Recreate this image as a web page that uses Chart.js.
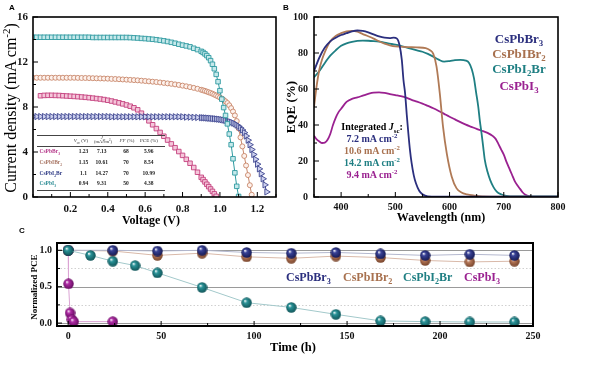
<!DOCTYPE html>
<html>
<head>
<meta charset="utf-8">
<script src="https://cdn.jsdelivr.net/npm/chart.js@4.4.0/dist/chart.umd.min.js"></script>
<style>
html, body { margin: 0; padding: 0; background: #fff; }
#wrap { position: relative; width: 600px; height: 373px; overflow: hidden; font-family: "Liberation Serif", "Times New Roman", serif; color: #000; }
canvas { position: absolute; }
.t { position: absolute; white-space: nowrap; transform: translate(-50%, -50%); line-height: 1; }
.rot { transform: translate(-50%, -50%) rotate(-90deg); }
.l { position: absolute; white-space: nowrap; transform: translate(0, -50%); line-height: 1; }
.hr { position: absolute; left: 37px; width: 128px; height: 0; border-top: 0.8px solid #444; }
sub, sup { font-size: 68%; line-height: 0; }
</style>
</head>
<body>
<div id="wrap">
  <canvas id="cA" width="285" height="230" style="left:0;top:0"></canvas>
  <canvas id="cB" width="313" height="230" style="left:287px;top:0"></canvas>
  <canvas id="cC" width="600" height="141" style="left:0;top:232px"></canvas>
</div>
<script>
// ---- panel A : J-V curves ----
const voltage = [0.00,0.02,0.04,0.06,0.08,0.10,0.12,0.14,0.16,0.18,0.20,0.22,0.24,0.26,0.28,0.30,0.32,0.34,0.36,0.38,0.40,0.42,0.44,0.46,0.48,0.50,0.52,0.54,0.56,0.58,0.60,0.62,0.64,0.66,0.68,0.70,0.72,0.74,0.76,0.78,0.80,0.82,0.84,0.86,0.88,0.90,
  0.91,0.92,0.93,0.94,0.95,0.96,0.97,0.98,0.99,1.00,1.01,1.02,1.03,1.04,1.05,1.06,1.07,1.08,1.09,1.10,1.11,1.12,1.13,1.14,1.15,1.16,1.17,1.18,1.19,1.20,1.21,1.22,1.23,1.24,1.25];
const jI2Br = [14.2,14.2,14.2,14.2,14.2,14.2,14.2,14.2,14.2,14.2,14.2,14.2,14.2,14.2,14.2,14.2,
  14.18,14.18,14.18,14.18,14.18,14.18,14.18,14.18,14.18,14.18,
  14.17,14.15,14.13,14.1,14.08,14.05,14.02,13.98,13.93,13.88,13.82,13.75,13.67,13.58,13.5,13.43,13.35,13.22,13.1,12.95,
  12.85,12.72,12.57,12.38,12.12,11.8,11.4,10.9,10.25,9.45,8.7,7.95,7.25,6.5,5.6,4.65,3.4,2.15,0.95,0.05];
const jIBr2 = [10.6,10.6,10.6,10.6,10.6,10.6,10.6,10.6,10.6,10.6,10.6,10.6,
  10.59,10.58,10.58,10.57,10.56,10.55,10.54,10.53,10.52,10.5,10.49,10.47,10.45,10.43,10.41,10.39,10.37,10.34,10.31,10.28,
  10.25,10.22,10.18,10.14,10.1,10.06,10.01,9.96,9.9,9.84,9.77,9.7,9.62,9.53,
  9.48,9.43,9.37,9.31,9.25,9.18,9.1,9.02,8.94,8.85,8.75,8.63,8.5,8.35,8.15,7.9,7.6,7.25,6.75,6.1,
  5.3,4.5,3.65,2.8,1.95,1.05,0.2];
const jBr3 = [7.15,7.15,7.15,7.15,7.15,7.15,7.15,7.15,7.15,7.15,7.15,7.15,7.15,7.15,7.15,7.15,7.15,7.15,7.15,7.15,7.15,
  7.13,7.13,7.13,7.13,7.13,7.13,7.13,7.13,7.13,7.13,7.13,7.13,7.13,7.13,7.13,7.13,7.13,7.13,7.13,7.13,
  7.1,7.1,7.08,7.07,7.05,
  7.04,7.03,7.02,7.0,6.99,6.97,6.96,6.94,6.92,6.9,6.87,6.84,6.8,6.76,6.71,6.65,6.58,6.5,6.4,6.28,
  6.13,5.95,5.72,5.42,5.05,4.65,4.22,3.78,3.35,2.92,2.5,2.07,1.62,1.08,0.45];
const jI3 = [null,null,9.0,9.03,9.04,9.04,9.03,9.02,9.0,8.98,8.96,8.94,8.92,8.89,8.86,8.83,8.79,8.75,8.71,8.66,8.6,8.53,
  8.45,8.37,8.28,8.18,8.07,7.93,7.75,7.45,7.12,6.77,6.42,6.08,5.74,5.4,5.06,4.72,4.38,4.04,3.7,3.35,3.0,2.62,2.2,1.75,
  1.55,1.34,1.13,0.92,0.71,0.5,0.28,0.06];

// inset table
const tableNames = ['CsPbBr<sub>3</sub>', 'CsPbIBr<sub>2</sub>', 'CsPbI<sub>2</sub>Br', 'CsPbI<sub>3</sub>'];
const tableVoc = ['1.23', '1.15', '1.1', '0.94'];
const tableJsc = ['7.13', '10.61', '14.27', '9.31'];
const tableFF = ['68', '70', '70', '50'];
const tablePCE = ['5.96', '8.54', '10.99', '4.38'];

// ---- panel B : EQE ----
const wlBr3 = [350,360,370,380,390,400,410,420,430,440,450,460,470,480,490,497,503,508,512,515,518,521,524,527,530,534,538,544,550,560,600,700,800];
const eqeBr3 = [70,77.5,83,86.5,88.5,90,91,92,92.5,92.3,91.5,90.3,89.2,88.5,88.3,88.5,88,84,76,65,57.6,46,35.4,26,18.9,12,7.6,3.5,1.5,0.4,0.2,0.2,0.2];
const wlIBr2 = [350,355,360,365,370,380,390,400,410,420,430,440,450,460,470,480,490,500,520,540,556,564,570,576,582,588,595,604,613,622,632,645,660,700,800];
const eqeIBr2 = [50,62,71,76.5,80.5,86.5,89.5,91,92,92.3,91.8,90.5,89.3,88,86.5,85.2,84.3,83.7,83.3,83.1,82.7,81.5,79.5,72.4,57.6,39,24,11.3,4.8,2.5,1.5,0.8,0.3,0.2,0.2];
const wlI2Br = [350,360,370,380,390,400,410,420,430,440,450,460,470,480,490,500,510,520,530,540,550,560,570,580,590,600,610,620,630,636,641,645,649,653,656,659,662,665,670,675,681,687,695,705,720,800];
const eqeI2Br = [66.5,70,74.5,78.5,81.5,84,85.4,86.2,86.7,86.9,86.8,86.6,86.3,85.8,85.2,84.6,83.9,83.1,82.3,81.5,80.7,79.5,78,76.3,75.2,75.5,76,76.2,75.8,74.5,71,66,58,50,42,35.4,28,20.6,14,9.4,5.5,3,1.5,0.6,0.3,0.3];
const wlI3 = [350,355,360,365,370,375,380,385,390,395,400,410,420,430,440,450,460,470,480,490,500,510,520,530,540,550,560,570,580,590,600,610,620,630,640,650,660,670,680,685,690,695,700,705,710,715,720,725,730,735,740,750,760,800];
const eqeI3 = [34,32,30.8,30,30.2,31.8,35,40,44,47,49,52.8,54.5,55.3,56.3,57.3,58,58.1,57.8,57.2,56.6,56,55.2,54,53,51.9,50.6,49.3,47.8,46.2,44.6,43.1,41.6,40.2,39,37.8,36.8,35.6,33.8,32.3,29.5,26.5,23.5,19.5,16,12.5,9,6.5,4.5,2.5,1.2,0.2,0,0];
const integratedJsc = ['7.2', '10.6', '14.2', '9.4'];

// ---- panel C : stability ----
const tI2Br = [0,12,24,36,48,72,96,120,144,168,192,216,240];
const pceI2Br = [1.0,0.93,0.85,0.79,0.69,0.49,0.28,0.215,0.12,0.03,0.02,0.015,0.015];
const tBr = [0,24,48,72,96,120,144,168,192,216,240];
const pceBr3 = [1.0,1.0,0.99,1.0,0.97,0.96,0.97,0.95,0.93,0.945,0.93];
const pceIBr2 = [1.0,0.99,0.93,0.96,0.91,0.89,0.92,0.9,0.86,0.84,0.85];
const tI3 = [0,0.2,1,2,3,24];
const pceI3 = [1.0,0.54,0.14,0.05,0.02,0.02];

const names = ['CsPbBr<sub>3</sub>', 'CsPbIBr<sub>2</sub>', 'CsPbI<sub>2</sub>Br', 'CsPbI<sub>3</sub>'];
const navy = '#2b2f7e', brown = '#b07a56', teal = '#1f7f83', purple = '#9a2190';

const pts = (xs, ys) => ys.map((y, i) => ({ x: xs[i], y }));
const isMult = (v, m) => Math.abs(v / m - Math.round(v / m)) < 1e-6;
const tickFont = size => ({ family: 'Liberation Serif', size, weight: 'bold' });

// box frame, inward ticks and reference lines
const framePlugin = {
  id: 'frame',
  beforeDatasetsDraw(chart, args, opts) {
    const { ctx, chartArea: a, scales } = chart;
    (opts.lines || []).forEach(l => {
      const py = Math.round(scales.y.getPixelForValue(l.value)) + 0.5;
      ctx.save();
      ctx.strokeStyle = l.color;
      ctx.lineWidth = 1;
      ctx.setLineDash(l.dash || []);
      ctx.beginPath(); ctx.moveTo(a.left, py); ctx.lineTo(a.right, py); ctx.stroke();
      ctx.restore();
    });
  },
  afterDraw(chart, args, opts) {
    const { ctx, chartArea: a, scales } = chart;
    ctx.save();
    ctx.strokeStyle = '#000';
    ctx.lineWidth = 1;
    scales.x.ticks.forEach(t => {
      const px = scales.x.getPixelForValue(t.value);
      const len = t.label ? 5 : 3;
      ctx.beginPath(); ctx.moveTo(px, a.bottom); ctx.lineTo(px, a.bottom - len); ctx.stroke();
    });
    scales.y.ticks.forEach(t => {
      const py = scales.y.getPixelForValue(t.value);
      const len = t.label ? 5 : 3;
      ctx.beginPath(); ctx.moveTo(a.left, py); ctx.lineTo(a.left + len, py); ctx.stroke();
    });
    ctx.lineWidth = opts.width || 1.6;
    ctx.strokeRect(a.left, a.top, a.right - a.left, a.bottom - a.top);
    ctx.restore();
  }
};

function linearAxis(min, max, step, fmt, pad, size, fit) {
  return {
    type: 'linear', min, max,
    border: { display: false },
    grid: { display: false, drawTicks: false },
    ticks: { stepSize: step, includeBounds: false, autoSkip: false, maxRotation: 0,
             padding: pad, font: tickFont(size), color: '#111', callback: fmt },
    afterFit: fit
  };
}

const base = (padding) => ({
  responsive: false, animation: false,
  layout: { padding },
  plugins: { legend: { display: false }, tooltip: { enabled: false } }
});

// ---- chart A ----
const jvSeries = [
  { data: jI2Br, color: '#2f9aa0', fill: '#c6e9eb', style: 'rect', r: 3.2, rot: 0 },
  { data: jBr3, color: '#3d4590', fill: '#cdd1ee', style: 'triangle', r: 3.6, rot: 90 },
  { data: jIBr2, color: '#c8876a', fill: '#fdf1ec', style: 'circle', r: 2.5, rot: 0 },
  { data: jI3, color: '#c4417e', fill: '#f5c6da', style: 'rect', r: 3.2, rot: 0 }
];
new Chart(document.getElementById('cA'), {
  type: 'line',
  data: {
    datasets: jvSeries.map(s => ({
      data: pts(voltage, s.data),
      borderColor: s.color, borderWidth: 1,
      pointStyle: s.style, pointRadius: s.r, pointRotation: s.rot,
      pointBackgroundColor: s.fill, pointBorderColor: s.color, pointBorderWidth: 0.9,
      tension: 0, spanGaps: false
    }))
  },
  options: Object.assign(base({ top: 17, right: 9, left: 0, bottom: 0 }), {
    scales: {
      x: linearAxis(0, 1.3, 0.1, v => (isMult(v, 0.2) && v > 0.01) ? v.toFixed(1) : '', 6, 11, s => { s.height = 33; }),
      y: linearAxis(0, 16, 2, v => isMult(v, 4) ? String(v) : '', 5, 11, s => { s.width = 33; })
    },
    plugins: { legend: { display: false }, tooltip: { enabled: false }, frame: { width: 1.6 } }
  }),
  plugins: [framePlugin]
});

// ---- chart B ----
const eqeSeries = [
  { x: wlBr3, y: eqeBr3, color: navy },
  { x: wlIBr2, y: eqeIBr2, color: brown },
  { x: wlI2Br, y: eqeI2Br, color: teal },
  { x: wlI3, y: eqeI3, color: purple }
];
new Chart(document.getElementById('cB'), {
  type: 'line',
  data: {
    datasets: eqeSeries.map(s => ({
      data: pts(s.x, s.y), borderColor: s.color, borderWidth: 1.8,
      pointRadius: 0, cubicInterpolationMode: 'monotone'
    }))
  },
  options: Object.assign(base({ top: 17, right: 42, left: 0, bottom: 0 }), {
    scales: {
      x: linearAxis(350, 800, 50, v => isMult(v, 100) ? String(v) : '', 4, 10, s => { s.height = 33; }),
      y: linearAxis(0, 100, 10, v => isMult(v, 20) ? String(v) : '', 6, 10, s => { s.width = 27; })
    },
    plugins: { legend: { display: false }, tooltip: { enabled: false }, frame: { width: 1.6 } }
  }),
  plugins: [framePlugin]
});

// ---- chart C ----
function sphere(col, dark) {
  const c = document.createElement('canvas');
  c.width = c.height = 11;
  const g = c.getContext('2d');
  const grd = g.createRadialGradient(3.8, 3.6, 0.2, 5.5, 5.5, 6);
  grd.addColorStop(0, '#ffffff');
  grd.addColorStop(0.28, col);
  grd.addColorStop(1, dark);
  g.fillStyle = grd;
  g.beginPath(); g.arc(5.5, 5.5, 5.2, 0, Math.PI * 2); g.fill();
  return c;
}
const stabSeries = [
  { x: tI2Br, y: pceI2Br, ball: sphere('#2a9499', '#0b4a4e'), line: '#a3c9cb' },
  { x: tBr, y: pceBr3, ball: sphere('#3a4398', '#10144a'), line: '#b4b8cf' },
  { x: tBr, y: pceIBr2, ball: sphere('#b97a5a', '#6e3c24'), line: '#d9b9a9' },
  { x: tI3, y: pceI3, ball: sphere('#b02aa6', '#5a0a55'), line: '#dba4d4' }
];
new Chart(document.getElementById('cC'), {
  type: 'line',
  data: {
    datasets: stabSeries.map(s => ({
      data: pts(s.x, s.y), borderColor: s.line, borderWidth: 1,
      pointStyle: s.ball, pointRadius: 5, tension: 0
    }))
  },
  options: Object.assign(base({ top: 11, right: 67, left: 0, bottom: 0 }), {
    scales: {
      x: linearAxis(-6, 250, 25, v => isMult(v, 50) ? String(v) : '', 4, 10, s => { s.height = 47; }),
      y: linearAxis(-0.04, 1.1, 0.25, v => isMult(v, 0.5) ? v.toFixed(1) : '', 5, 10, s => { s.width = 57; })
    },
    plugins: {
      legend: { display: false }, tooltip: { enabled: false },
      frame: {
        width: 2,
        lines: [
          { value: 1.0, color: '#9a9a9a' }, { value: 0.5, color: '#9a9a9a' }, { value: 0.0, color: '#9a9a9a' },
          { value: 0.75, color: '#d0d0d0', dash: [1.5, 2] }, { value: 0.25, color: '#d0d0d0', dash: [1.5, 2] }
        ]
      }
    }
  }),
  plugins: [framePlugin]
});

// ---- text overlays ----
const wrap = document.getElementById('wrap');
function txt(html, x, y, css, cls) {
  const d = document.createElement('div');
  d.className = cls || 't';
  d.innerHTML = html;
  d.style.left = x + 'px';
  d.style.top = y + 'px';
  d.style.cssText += ';' + (css || '');
  wrap.appendChild(d);
  return d;
}
const sans = 'font-family:"Liberation Sans",Arial,sans-serif;font-weight:bold;font-size:8px;';
txt('A', 12, 8, sans);
txt('B', 286, 8, sans);
txt('C', 22, 231, sans);

// axis titles
txt('Current density (mA cm<sup>-2</sup>)', 11, 108, 'font-size:16px;', 't rot');
txt('Voltage (V)', 151, 220, 'font-size:12px;font-weight:bold;');
txt('EQE (%)', 290, 107, 'font-size:13px;font-weight:bold;', 't rot');
txt('Wavelength (nm)', 441, 217, 'font-size:12px;font-weight:bold;');
txt('Normalized PCE', 34, 287, 'font-size:9px;font-weight:bold;', 't rot');
txt('Time (h)', 293, 347, 'font-size:12.5px;font-weight:bold;');

// panel B legend and integrated Jsc
const legendColors = [navy, '#a8714f', teal, purple];
const legendYB = [38, 53, 68, 85];
names.forEach((n, i) => txt(n, 519, legendYB[i], 'font-size:13px;font-weight:bold;color:' + legendColors[i]));
txt('Integrated <i>J</i><sub>sc</sub>:', 372, 126.7, 'font-size:10px;font-weight:bold;');
integratedJsc.forEach((v, i) => txt(v + ' mA cm<sup>-2</sup>', 372, 138.8 + i * 12.1,
  'font-size:10px;font-weight:bold;color:' + legendColors[i]));

// panel C legend
const legendXC = [286, 343, 403, 464];
names.forEach((n, i) => txt(n, legendXC[i], 277, 'font-size:12px;font-weight:bold;color:' + legendColors[i], 'l'));

// inset table in panel A
[134.5, 145.5, 190].forEach(y => {
  const d = document.createElement('div');
  d.className = 'hr';
  d.style.top = y + 'px';
  wrap.appendChild(d);
});
const hdr = 'font-size:5px;color:#333;';
txt('<i>V</i><sub>oc</sub> (V)', 81, 140, hdr);
txt('<i>J</i><sub>sc</sub><br>(mA/cm<sup>2</sup>)', 103, 140, hdr + 'line-height:0.9;text-align:center;font-size:4.5px;');
txt('<i>FF</i> (%)', 127, 140, hdr);
txt('PCE (%)', 149, 140, hdr);
const rowColors = ['#b5388a', '#a87563', '#2e3a85', '#2c8c94'];
const rowY = [151.7, 162.6, 173.5, 184.4];
tableNames.forEach((n, i) => {
  txt(n, 39.5, rowY[i], 'font-size:5.5px;font-weight:bold;color:' + rowColors[i], 'l');
  const vs = 'font-size:5.5px;font-weight:bold;color:#222;';
  txt(tableVoc[i], 83.5, rowY[i], vs);
  txt(tableJsc[i], 101.7, rowY[i], vs);
  txt(tableFF[i], 126, rowY[i], vs);
  txt(tablePCE[i], 148.7, rowY[i], vs);
});
</script>
</body>
</html>
